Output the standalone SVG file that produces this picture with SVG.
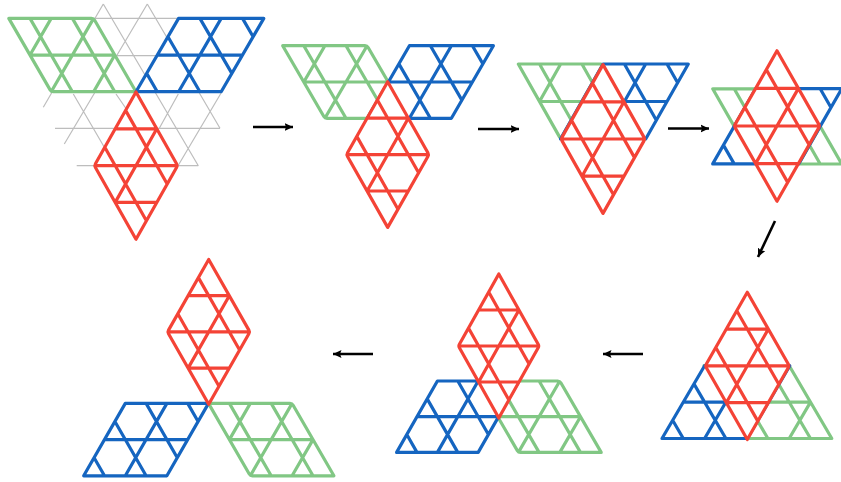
<svg xmlns="http://www.w3.org/2000/svg" xmlns:xlink="http://www.w3.org/1999/xlink" width="841" height="482" viewBox="0 0 841 482">
<style>
.t{fill:#fff;stroke-linejoin:round;vector-effect:non-scaling-stroke}
.g{stroke:#81c784;stroke-width:3.2}
.b{stroke:#1565c0;stroke-width:3.2}
.r{stroke:#f44336;stroke-width:3.2}
.grid{stroke:#bdbdbd;stroke-width:1.2;fill:none}
.arrow{stroke:#000;stroke-width:2.6;fill:none;marker-end:url(#head)}
</style>
<defs>
<marker id="head" markerUnits="userSpaceOnUse" markerWidth="10" markerHeight="10" refX="8.5" refY="5" orient="auto"><path d="M0 1L8.5 5L0 9L1.5 5Z" fill="#000"/></marker>
<path id="A" class="t" d="M0 0H3.9Q4 0 4 .1V4H.1Q0 4 0 3.9Z M0 1H4 M0 3H4 M2 0V4 M0 2L2 0 M0 4L4 0 M2 4L4 2"/>
<path id="B" class="t" d="M0 0H4V4H0Z M2 0V4 M0 2H4 M1 0L0 1 M3 0L0 3 M4 1L1 4 M4 3L3 4"/>
</defs>
<g id="grid" class="grid">
<path d="M93.3 18.3H180M116.7 55.7H160M55 128.3H220M76.7 165.7H198.3"/>
<path d="M103.3 4L43.3 107.3M103.3 4L198.3 165.7M147.3 4L64.3 144M147.3 4L220 128.3M73.3 94L110 157M116 94L127 110M178 165.7L221.7 92M159.3 128.3L178.3 94"/>
</g>
<g id="stage1">
<g id="s1-green" class="g"><use xlink:href="#A" href="#A" transform="matrix(-10.6 -18.33 -21.2 0 136 91.7)"/></g>
<g id="s1-blue" class="b"><use xlink:href="#B" href="#B" transform="matrix(10.65 -18.33 21.3 0 136 91.7)"/></g>
<g id="s1-red" class="r"><use xlink:href="#A" href="#A" transform="matrix(10.4 18.4 -10.4 18.4 136 92)"/></g>
</g>
<g id="stage2">
<g id="s2-green" class="g"><use xlink:href="#A" href="#A" transform="matrix(-10.55 -18.15 -21.1 0 409.3 118.3)"/></g>
<g id="s2-blue" class="b"><use xlink:href="#B" href="#B" transform="matrix(10.5 -18.15 21 0 367.4 118.3)"/></g>
<g id="s2-red" class="r"><use xlink:href="#A" href="#A" transform="matrix(10.3 18.2 -10.3 18.2 387.7 81.8)"/></g>
</g>
<g id="stage3">
<g id="s3-green" class="g"><use xlink:href="#A" href="#A" transform="matrix(-10.6 -18.75 -21.2 0 645.5 139)"/></g>
<g id="s3-blue" class="b"><use xlink:href="#B" href="#B" transform="matrix(10.65 -18.75 21.3 0 560.5 139)"/></g>
<g id="s3-red" class="r"><use xlink:href="#A" href="#A" transform="matrix(10.5 18.6 -10.5 18.6 603 64.6)"/></g>
</g>
<g id="stage4">
<g id="s4-green" class="g"><use xlink:href="#A" href="#A" transform="matrix(-10.75 -18.8 -21.5 0 841.7 164)"/></g>
<g id="s4-blue" class="b"><use xlink:href="#B" href="#B" transform="matrix(-10.75 18.8 -21.5 0 841.7 88.7)"/></g>
<g id="s4-red" class="r"><use xlink:href="#A" href="#A" transform="matrix(10.7 18.8 -10.7 18.8 777 50.8)"/></g>
</g>
<g id="stage5">
<g id="s5-green" class="g"><use xlink:href="#A" href="#A" transform="matrix(10.65 18.2 21.3 0 704 365.7)"/></g>
<g id="s5-blue" class="b"><use xlink:href="#B" href="#B" transform="matrix(-10.65 18.2 -21.3 0 789.8 365.7)"/></g>
<g id="s5-red" class="r"><use xlink:href="#A" href="#A" transform="matrix(10.5 18.4 -10.5 18.4 747.3 292.3)"/></g>
</g>
<g id="stage6">
<g id="s6-green" class="g"><use xlink:href="#A" href="#A" transform="matrix(10.35 17.85 20.7 0 477 381)"/></g>
<g id="s6-blue" class="b"><use xlink:href="#B" href="#B" transform="matrix(-10.2 17.85 -20.4 0 519 381)"/></g>
<g id="s6-red" class="r"><use xlink:href="#A" href="#A" transform="matrix(10.1 18 -10.1 18 498.8 274)"/></g>
</g>
<g id="stage7">
<g id="s7-green" class="g"><use xlink:href="#A" href="#A" transform="matrix(10.45 18.1 20.9 0 208.5 403.4)"/></g>
<g id="s7-blue" class="b"><use xlink:href="#B" href="#B" transform="matrix(-10.4 18.1 -20.8 0 208.5 403.4)"/></g>
<g id="s7-red" class="r"><use xlink:href="#A" href="#A" transform="matrix(10.3 18.1 -10.3 18.1 208.7 259.5)"/></g>
</g>
<g id="connectors">
<path class="arrow" d="M253 127H293"/>
<path class="arrow" d="M478 129H519"/>
<path class="arrow" d="M668 128.500H709"/>
<path class="arrow" d="M775 221L758 257"/>
<path class="arrow" d="M643 354H603"/>
<path class="arrow" d="M373 354H333"/>
</g>
</svg>
